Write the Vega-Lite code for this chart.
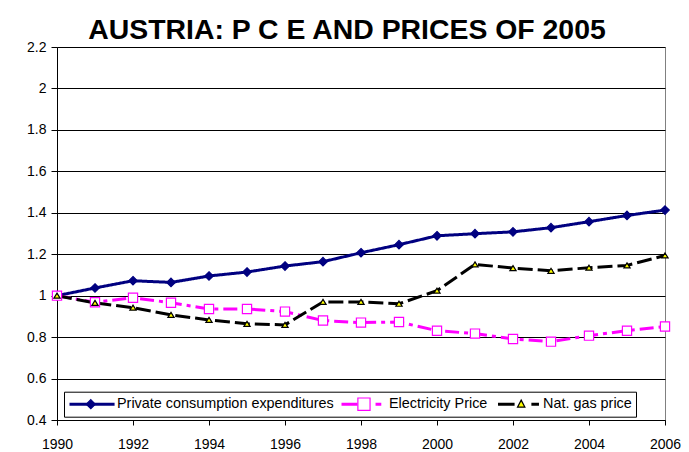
{
  "$schema": "https://vega.github.io/schema/vega-lite/v6.json",
  "width": 608,
  "height": 373,
  "autosize": {"type": "none"},
  "padding": {"left": 57, "top": 47, "right": 24, "bottom": 32},
  "background": "white",
  "title": {
    "text": "AUSTRIA: P C E AND PRICES OF 2005",
    "font": "Liberation Sans",
    "fontSize": 28.4,
    "fontWeight": "bold",
    "color": "black",
    "anchor": "middle",
    "frame": "group",
    "dx": -14,
    "dy": 31,
    "baseline": "alphabetic",
    "offset": 4
  },
  "config": {
    "view": {"stroke": "#808080", "strokeWidth": 1},
    "axis": {
      "labelFont": "Liberation Sans",
      "labelFontSize": 14,
      "labelColor": "black",
      "tickColor": "black",
      "domainColor": "black",
      "title": null
    }
  },
  "data": {
    "values": [
      {"year": 1990, "series": "Private consumption expenditures", "value": 1.0},
      {"year": 1991, "series": "Private consumption expenditures", "value": 1.037},
      {"year": 1992, "series": "Private consumption expenditures", "value": 1.072},
      {"year": 1993, "series": "Private consumption expenditures", "value": 1.064},
      {"year": 1994, "series": "Private consumption expenditures", "value": 1.095},
      {"year": 1995, "series": "Private consumption expenditures", "value": 1.114},
      {"year": 1996, "series": "Private consumption expenditures", "value": 1.143},
      {"year": 1997, "series": "Private consumption expenditures", "value": 1.164},
      {"year": 1998, "series": "Private consumption expenditures", "value": 1.207},
      {"year": 1999, "series": "Private consumption expenditures", "value": 1.246},
      {"year": 2000, "series": "Private consumption expenditures", "value": 1.289},
      {"year": 2001, "series": "Private consumption expenditures", "value": 1.299},
      {"year": 2002, "series": "Private consumption expenditures", "value": 1.308},
      {"year": 2003, "series": "Private consumption expenditures", "value": 1.328},
      {"year": 2004, "series": "Private consumption expenditures", "value": 1.357},
      {"year": 2005, "series": "Private consumption expenditures", "value": 1.387},
      {"year": 2006, "series": "Private consumption expenditures", "value": 1.413},
      {"year": 1990, "series": "Electricity Price", "value": 1.0},
      {"year": 1991, "series": "Electricity Price", "value": 0.968},
      {"year": 1992, "series": "Electricity Price", "value": 0.99},
      {"year": 1993, "series": "Electricity Price", "value": 0.966},
      {"year": 1994, "series": "Electricity Price", "value": 0.936},
      {"year": 1995, "series": "Electricity Price", "value": 0.936},
      {"year": 1996, "series": "Electricity Price", "value": 0.923},
      {"year": 1997, "series": "Electricity Price", "value": 0.88},
      {"year": 1998, "series": "Electricity Price", "value": 0.87},
      {"year": 1999, "series": "Electricity Price", "value": 0.873},
      {"year": 2000, "series": "Electricity Price", "value": 0.831},
      {"year": 2001, "series": "Electricity Price", "value": 0.817},
      {"year": 2002, "series": "Electricity Price", "value": 0.791},
      {"year": 2003, "series": "Electricity Price", "value": 0.778},
      {"year": 2004, "series": "Electricity Price", "value": 0.807},
      {"year": 2005, "series": "Electricity Price", "value": 0.831},
      {"year": 2006, "series": "Electricity Price", "value": 0.851},
      {"year": 1990, "series": "Nat. gas price", "value": 1.0},
      {"year": 1991, "series": "Nat. gas price", "value": 0.965},
      {"year": 1992, "series": "Nat. gas price", "value": 0.942},
      {"year": 1993, "series": "Nat. gas price", "value": 0.907},
      {"year": 1994, "series": "Nat. gas price", "value": 0.883},
      {"year": 1995, "series": "Nat. gas price", "value": 0.864},
      {"year": 1996, "series": "Nat. gas price", "value": 0.859},
      {"year": 1997, "series": "Nat. gas price", "value": 0.97},
      {"year": 1998, "series": "Nat. gas price", "value": 0.97},
      {"year": 1999, "series": "Nat. gas price", "value": 0.961},
      {"year": 2000, "series": "Nat. gas price", "value": 1.024},
      {"year": 2001, "series": "Nat. gas price", "value": 1.151},
      {"year": 2002, "series": "Nat. gas price", "value": 1.133},
      {"year": 2003, "series": "Nat. gas price", "value": 1.12},
      {"year": 2004, "series": "Nat. gas price", "value": 1.135},
      {"year": 2005, "series": "Nat. gas price", "value": 1.146},
      {"year": 2006, "series": "Nat. gas price", "value": 1.194}
    ]
  },
  "resolve": {
    "scale": {"stroke": "independent", "shape": "independent", "fill": "independent", "strokeDash": "independent"},
    "legend": {"stroke": "independent", "shape": "independent", "fill": "independent", "strokeDash": "independent"}
  },
  "layer": [
    {
      "mark": {"type": "line", "strokeWidth": 3},
      "encoding": {
        "x": {
          "field": "year",
          "type": "quantitative",
          "scale": {"domain": [1990, 2006], "nice": false, "zero": false},
          "axis": {
            "values": [1990, 1992, 1994, 1996, 1998, 2000, 2002, 2004, 2006],
            "format": "d",
            "grid": false,
            "tickSize": 5,
            "labelPadding": 12,
            "labelFlush": false,
            "labelOverlap": false
          }
        },
        "y": {
          "field": "value",
          "type": "quantitative",
          "scale": {"domain": [0.4, 2.2], "nice": false, "zero": false},
          "axis": {
            "values": [0.4, 0.6, 0.8, 1.0, 1.2, 1.4, 1.6, 1.8, 2.0, 2.2],
            "format": ".1~f",
            "grid": true,
            "gridColor": "black",
            "gridWidth": 1,
            "gridOpacity": 1,
            "tickSize": 6,
            "labelPadding": 5
          }
        },
        "stroke": {
          "field": "series",
          "type": "nominal",
          "scale": {
            "domain": ["Private consumption expenditures", "Electricity Price", "Nat. gas price"],
            "range": ["#000080", "#FF00FF", "#000000"]
          },
          "legend": null
        },
        "strokeDash": {
          "field": "series",
          "type": "nominal",
          "scale": {
            "domain": ["Private consumption expenditures", "Electricity Price", "Nat. gas price"],
            "range": [[1, 0], [14, 5, 4, 5], [15, 5]]
          },
          "legend": null
        }
      }
    },
    {
      "mark": {"type": "point", "filled": true, "size": 100, "strokeWidth": 1.2, "opacity": 1},
      "encoding": {
        "x": {"field": "year", "type": "quantitative"},
        "y": {"field": "value", "type": "quantitative"},
        "stroke": {
          "field": "series",
          "type": "nominal",
          "scale": {
            "domain": ["Private consumption expenditures", "Electricity Price", "Nat. gas price"],
            "range": ["#000080", "#FF00FF", "#000000"]
          },
          "legend": null
        },
        "fill": {
          "field": "series",
          "type": "nominal",
          "scale": {
            "domain": ["Private consumption expenditures", "Electricity Price", "Nat. gas price"],
            "range": ["#000080", "#FFFFFF", "#FFFF00"]
          },
          "legend": null
        },
        "shape": {
          "field": "series",
          "type": "nominal",
          "scale": {
            "domain": ["Private consumption expenditures", "Electricity Price", "Nat. gas price"],
            "range": ["M0,-0.85L0.85,0L0,0.85L-0.85,0Z", "M-0.92,-0.92H0.92V0.92H-0.92Z", "M0,-0.5L0.62,0.5L-0.62,0.5Z"]
          },
          "legend": null
        }
      }
    },
    {
      "transform": [{"filter": "datum.year < 0"}],
      "mark": {"type": "point", "filled": false, "strokeWidth": 3, "opacity": 1},
      "encoding": {
        "x": {"field": "year", "type": "quantitative"},
        "y": {"field": "value", "type": "quantitative"},
        "shape": {
          "field": "series",
          "type": "nominal",
          "scale": {
            "domain": ["Private consumption expenditures", "Electricity Price", "Nat. gas price"],
            "range": ["M-1,0H0.96", "M-1,0H-0.3M0.48,0H0.73", "M-0.89,0H-0.17M0.56,0H0.89"]
          },
          "legend": {
            "orient": "none",
            "legendX": 7,
            "legendY": 344.7,
            "direction": "horizontal",
            "title": null,
            "padding": 4,
            "strokeColor": "black",
            "symbolSize": 2116,
            "symbolStrokeWidth": 3,
            "symbolOpacity": 1,
            "symbolFillColor": "transparent",
            "clipHeight": 17,
            "labelOffset": 0,
            "columnPadding": 6,
            "labelFont": "Liberation Sans",
            "labelFontSize": 14.4,
            "labelColor": "black",
            "labelLimit": 400
          }
        },
        "stroke": {
          "field": "series",
          "type": "nominal",
          "scale": {
            "domain": ["Private consumption expenditures", "Electricity Price", "Nat. gas price"],
            "range": ["#000080", "#FF00FF", "#000000"]
          },
          "legend": {
            "orient": "none",
            "legendX": 7,
            "legendY": 344.7,
            "direction": "horizontal",
            "title": null,
            "padding": 4,
            "strokeColor": "black",
            "symbolSize": 2116,
            "symbolStrokeWidth": 3,
            "symbolOpacity": 1,
            "symbolFillColor": "transparent",
            "clipHeight": 17,
            "labelOffset": 0,
            "columnPadding": 6,
            "labelFont": "Liberation Sans",
            "labelFontSize": 14.4,
            "labelColor": "black",
            "labelLimit": 400
          }
        }
      }
    },
    {
      "transform": [{"filter": "datum.year < 0"}],
      "mark": {"type": "point", "filled": true, "strokeWidth": 1.2, "opacity": 1},
      "encoding": {
        "x": {"field": "year", "type": "quantitative"},
        "y": {"field": "value", "type": "quantitative"},
        "shape": {
          "field": "series",
          "type": "nominal",
          "scale": {
            "domain": ["Private consumption expenditures", "Electricity Price", "Nat. gas price"],
            "range": ["M-0.092,-0.19L0.098,0L-0.092,0.19L-0.282,0Z", "M-0.34,-0.26H0.17V0.26H-0.34Z", "M0.008,-0.17L0.163,0.125L-0.146,0.125Z"]
          },
          "legend": {
            "orient": "none",
            "legendX": 7,
            "legendY": 344.7,
            "direction": "horizontal",
            "title": null,
            "padding": 4,
            "symbolSize": 2285,
            "symbolStrokeWidth": 1.2,
            "symbolOpacity": 1,
            "clipHeight": 17,
            "labelOffset": 0,
            "columnPadding": 6,
            "labelFont": "Liberation Sans",
            "labelFontSize": 14.4,
            "labelColor": "black",
            "labelOpacity": 0,
            "labelLimit": 400
          }
        },
        "stroke": {
          "field": "series",
          "type": "nominal",
          "scale": {
            "domain": ["Private consumption expenditures", "Electricity Price", "Nat. gas price"],
            "range": ["#000080", "#FF00FF", "#000000"]
          },
          "legend": {
            "orient": "none",
            "legendX": 7,
            "legendY": 344.7,
            "direction": "horizontal",
            "title": null,
            "padding": 4,
            "symbolSize": 2285,
            "symbolStrokeWidth": 1.2,
            "symbolOpacity": 1,
            "clipHeight": 17,
            "labelOffset": 0,
            "columnPadding": 6,
            "labelFont": "Liberation Sans",
            "labelFontSize": 14.4,
            "labelColor": "black",
            "labelOpacity": 0,
            "labelLimit": 400
          }
        },
        "fill": {
          "field": "series",
          "type": "nominal",
          "scale": {
            "domain": ["Private consumption expenditures", "Electricity Price", "Nat. gas price"],
            "range": ["#000080", "#FFFFFF", "#FFFF00"]
          },
          "legend": {
            "orient": "none",
            "legendX": 7,
            "legendY": 344.7,
            "direction": "horizontal",
            "title": null,
            "padding": 4,
            "symbolSize": 2285,
            "symbolStrokeWidth": 1.2,
            "symbolOpacity": 1,
            "clipHeight": 17,
            "labelOffset": 0,
            "columnPadding": 6,
            "labelFont": "Liberation Sans",
            "labelFontSize": 14.4,
            "labelColor": "black",
            "labelOpacity": 0,
            "labelLimit": 400
          }
        }
      }
    }
  ]
}
